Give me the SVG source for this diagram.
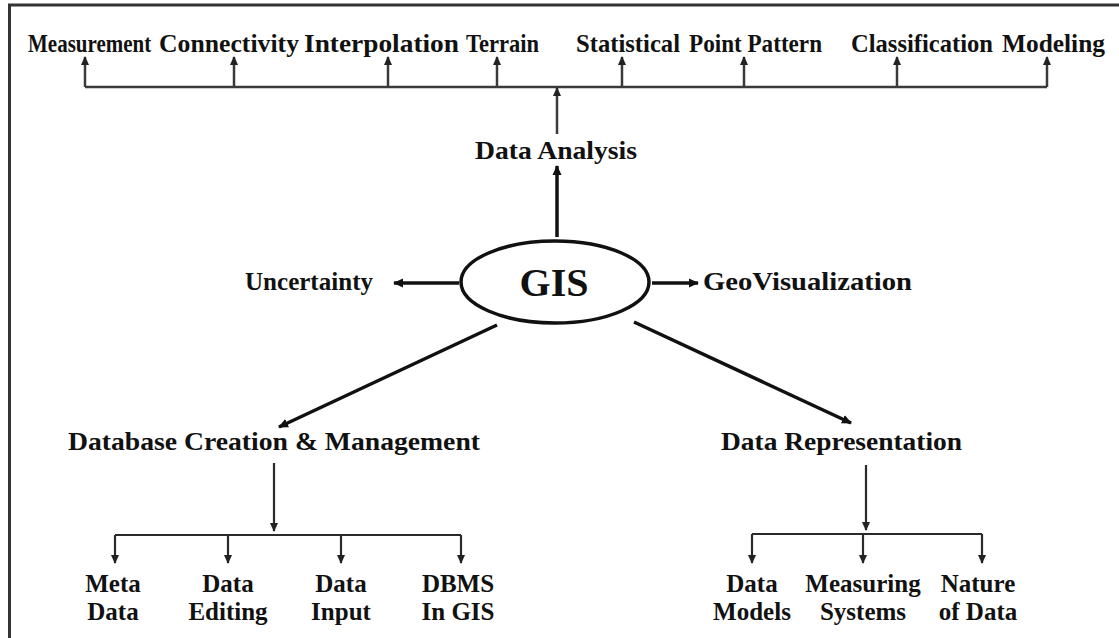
<svg xmlns="http://www.w3.org/2000/svg" width="1119" height="638" viewBox="0 0 1119 638">
<style>
text{font-family:"Liberation Serif","Times New Roman",serif;font-weight:bold;fill:#111;font-size:25px}
.big{font-size:40px}
.thin{stroke:#3a3a3a;stroke-width:2.5;fill:none}
.thick{stroke:#111;stroke-width:3.5;fill:none}
.tree{stroke:#2a2a2a;stroke-width:2.2;fill:none}
</style>
<defs>
<marker id="ah" viewBox="0 0 10 10" refX="9" refY="5" markerWidth="10" markerHeight="10" markerUnits="userSpaceOnUse" orient="auto">
<path d="M0,0.5 L10,5 L0,9.5 z" fill="#111"/>
</marker>
<marker id="ahs" viewBox="0 0 10 10" refX="9" refY="5" markerWidth="9" markerHeight="9" markerUnits="userSpaceOnUse" orient="auto">
<path d="M0,0.5 L10,5 L0,9.5 z" fill="#222"/>
</marker>
</defs>
<rect width="1119" height="638" fill="#fff"/>
<g id="border" stroke="#333" stroke-width="3" fill="none">
<line x1="8" y1="5" x2="1119" y2="5"/>
<line x1="9.5" y1="4" x2="9.5" y2="638"/>
</g>
<g id="connectors">
<path class="thin" d="M85,87 H1047"/>
<path class="thin" marker-end="url(#ahs)" d="M85,87 V57"/>
<path class="thin" marker-end="url(#ahs)" d="M234,87 V57"/>
<path class="thin" marker-end="url(#ahs)" d="M388,87 V57"/>
<path class="thin" marker-end="url(#ahs)" d="M497,87 V57"/>
<path class="thin" marker-end="url(#ahs)" d="M622,87 V57"/>
<path class="thin" marker-end="url(#ahs)" d="M744,87 V57"/>
<path class="thin" marker-end="url(#ahs)" d="M897,87 V57"/>
<path class="thin" marker-end="url(#ahs)" d="M1047,87 V57"/>
<path class="thin" marker-end="url(#ahs)" d="M557,134 V88"/>
<path class="thick" marker-end="url(#ah)" d="M557,237 V166"/>
<path class="thick" marker-end="url(#ah)" d="M459,283 H394"/>
<path class="thick" marker-end="url(#ah)" d="M652,283 H698"/>
<path class="thick" marker-end="url(#ah)" d="M497,325 L279,427"/>
<path class="thick" marker-end="url(#ah)" d="M634,322 L851,423"/>
<path class="tree" marker-end="url(#ahs)" d="M274,463 V531"/>
<path class="tree" d="M115,535 H461"/>
<path class="tree" marker-end="url(#ahs)" d="M115,535 V563"/>
<path class="tree" marker-end="url(#ahs)" d="M228,535 V563"/>
<path class="tree" marker-end="url(#ahs)" d="M341,535 V563"/>
<path class="tree" marker-end="url(#ahs)" d="M461,535 V563"/>
<path class="tree" marker-end="url(#ahs)" d="M866,465 V530"/>
<path class="tree" d="M752,534 H982"/>
<path class="tree" marker-end="url(#ahs)" d="M752,534 V563"/>
<path class="tree" marker-end="url(#ahs)" d="M863,534 V563"/>
<path class="tree" marker-end="url(#ahs)" d="M982,534 V563"/>
</g>
<g id="n-measurement"><text transform="translate(28,52) scale(0.84,1)" x="0" y="0">Measurement</text></g>
<g id="n-connectivity"><text x="159" y="52" textLength="140" lengthAdjust="spacingAndGlyphs">Connectivity</text></g>
<g id="n-interpolation"><text x="304" y="52" textLength="155" lengthAdjust="spacingAndGlyphs">Interpolation</text></g>
<g id="n-terrain"><text x="466" y="52" textLength="73" lengthAdjust="spacingAndGlyphs">Terrain</text></g>
<g id="n-statistical"><text x="576" y="52" textLength="104" lengthAdjust="spacingAndGlyphs">Statistical</text></g>
<g id="n-pointpattern"><text x="689" y="52" textLength="133" lengthAdjust="spacingAndGlyphs">Point Pattern</text></g>
<g id="n-classification"><text x="851" y="52" textLength="142" lengthAdjust="spacingAndGlyphs">Classification</text></g>
<g id="n-modeling"><text x="1002" y="52" textLength="103" lengthAdjust="spacingAndGlyphs">Modeling</text></g>
<g id="n-dataanalysis"><text x="475" y="159" textLength="162" lengthAdjust="spacingAndGlyphs">Data Analysis</text></g>
<g id="n-gis">
<ellipse cx="555" cy="282" rx="94" ry="41" fill="none" stroke="#111" stroke-width="3.5"/>
<text class="big" x="554" y="296" text-anchor="middle">GIS</text>
</g>
<g id="n-uncertainty"><text x="245" y="290" textLength="128" lengthAdjust="spacingAndGlyphs">Uncertainty</text></g>
<g id="n-geovisualization"><text x="703" y="290" textLength="209" lengthAdjust="spacingAndGlyphs">GeoVisualization</text></g>
<g id="n-database"><text x="68" y="450" textLength="412" lengthAdjust="spacingAndGlyphs">Database Creation &amp; Management</text></g>
<g id="n-datarep"><text x="721" y="450" textLength="241" lengthAdjust="spacingAndGlyphs">Data Representation</text></g>
<g id="n-metadata"><text x="113" y="592" text-anchor="middle">Meta</text><text x="113" y="620" text-anchor="middle">Data</text></g>
<g id="n-dataediting"><text x="228" y="592" text-anchor="middle">Data</text><text x="228" y="620" text-anchor="middle">Editing</text></g>
<g id="n-datainput"><text x="341" y="592" text-anchor="middle">Data</text><text x="341" y="620" text-anchor="middle">Input</text></g>
<g id="n-dbms"><text x="458" y="592" text-anchor="middle">DBMS</text><text x="458" y="620" text-anchor="middle">In GIS</text></g>
<g id="n-datamodels"><text x="752" y="592" text-anchor="middle">Data</text><text x="752" y="620" text-anchor="middle">Models</text></g>
<g id="n-measuring"><text x="863" y="592" text-anchor="middle">Measuring</text><text x="863" y="620" text-anchor="middle">Systems</text></g>
<g id="n-nature"><text x="978" y="592" text-anchor="middle">Nature</text><text x="978" y="620" text-anchor="middle">of Data</text></g>
</svg>
